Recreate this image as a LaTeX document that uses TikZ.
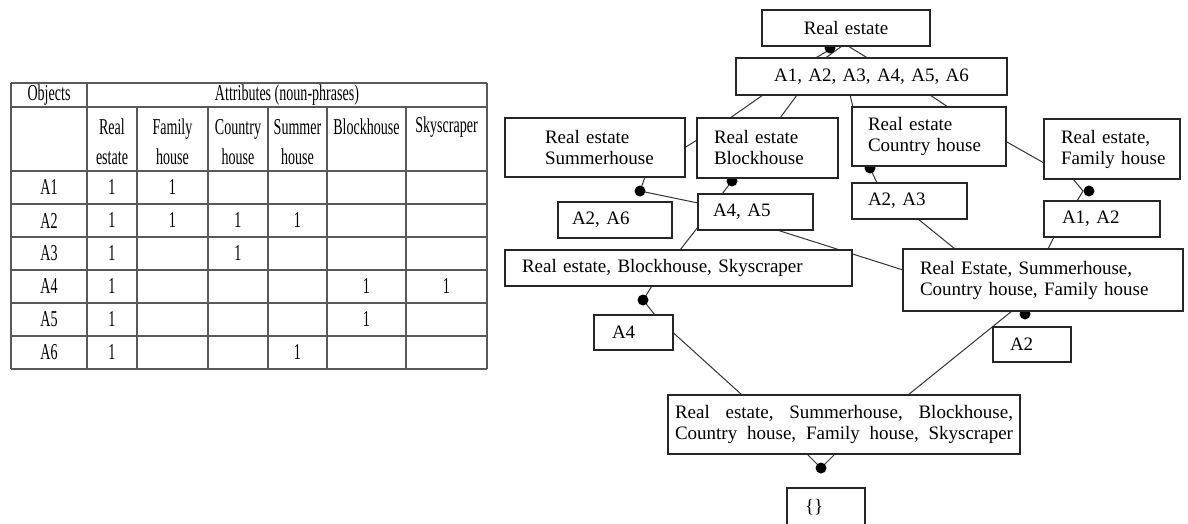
\documentclass[tikz,border=0pt]{standalone}
\usepackage{fontspec}
\setmainfont{Liberation Serif}
\newfontfamily\tabfont[FakeStretch=0.62]{Liberation Serif}
\usetikzlibrary{calc,backgrounds}
\newcommand\boxfont{\fontsize{11.4}{12.6}\selectfont}
\newcommand\cellfont{\tabfont\fontsize{13.6}{18}\selectfont}

\begin{document}
\begin{tikzpicture}[x=0.6pt, y=-0.6pt,
  box/.style={draw=black!85, line width=0.8pt, fill=white, anchor=north west,
    align=left, inner ysep=0pt, outer sep=0pt, font=\boxfont},
  link/.style={black!80, line width=0.6pt},
  joint/.style={fill=black},
  grid/.style={black!65, line width=0.8pt},
  cell/.style={font=\cellfont, inner sep=0pt, align=center}]
\useasboundingbox (0,0) rectangle (1188,523);

% table of objects and attributes
\foreach \yy in {83,107,171,204,...,369} \draw[grid] (11,\yy) -- (487,\yy);
\foreach \xx in {11,87,487} \draw[grid] (\xx,83) -- (\xx,369);
\foreach \xx in {137,208,268,327,406} \draw[grid] (\xx,107) -- (\xx,369);

\node[cell] (hobj) at (49,95) {Objects};
\node[cell] (hattr) at (287,95) {Attributes (noun-phrases)};
\foreach \xx/\lab [count=\k] in {112/{Real\\estate},172.5/{Family\\house},238/{Country\\house},297.5/{Summer\\house}}
  \node[cell] (att\k) at (\xx,142) {\lab};
\node[cell] (att5) at (366.5,127) {Blockhouse};
\node[cell] (att6) at (446.5,127) {Skyscraper};

\foreach \r in {1,...,6}
  \node[cell] (obj\r) at (49,{154.5+33*\r}) {A\r};
\foreach \r/\xx [count=\k] in {1/112,1/172.5,2/112,2/172.5,2/238,2/297.5,3/112,3/238,
    4/112,4/366.5,4/446.5,5/112,5/366.5,6/112,6/297.5}
  \node[cell] (one\k) at (\xx,{154.5+33*\r}) {1};

% lattice: intents and extents
\node[box, align=center, inner xsep=5.4pt, text width=90pt, minimum height=21.6pt] (re) at (762,10) {Real estate};
\node[box, align=center, inner xsep=5.4pt, text width=151.8pt, minimum height=22.2pt] (all) at (736,58) {A1, A2, A3, A4, A5, A6};

\node[box, inner xsep=24pt, text width=60pt, minimum height=35.4pt] (resum) at (505,118) {Real estate\\Summerhouse};
\node[box, inner xsep=10.2pt, text width=64.2pt, minimum height=36pt] (reblk) at (697,118) {Real estate\\Blockhouse};
\node[box, inner xsep=9.6pt, text width=73.2pt, minimum height=35.4pt] (recty) at (852,107) {Real estate\\Country~house};
\node[box, inner xsep=10.2pt, text width=61.2pt, minimum height=36pt] (refam) at (1044,119) {Real estate,\\Family~house};

\node[box, inner xsep=8.4pt, text width=51.6pt, minimum height=21.6pt] (a26) at (558,202) {A2, A6};
\node[box, inner xsep=9pt, text width=51pt, minimum height=21.6pt] (a45) at (698,194) {A4, A5};
\node[box, inner xsep=9.6pt, text width=49.8pt, minimum height=21.6pt] (a23) at (852,183) {A2, A3};
\node[box, inner xsep=10.8pt, text width=48pt, minimum height=21.6pt] (a12) at (1044,201) {A1, A2};

\node[box, inner xsep=10.2pt, text width=187.8pt, minimum height=21.6pt] (bs) at (505,250) {Real estate, Blockhouse, Skyscraper};
\node[box, inner xsep=10.2pt, text width=147.6pt, minimum height=37.2pt] (scf) at (903,249) {Real Estate, Summerhouse,\\Country house, Family house};

\node[box, inner xsep=10.8pt, text width=25.8pt, minimum height=21pt] (a4) at (594,315) {A4};
\node[box, inner xsep=10.2pt, text width=26.4pt, minimum height=21pt] (a2) at (993,327) {A2};

\node[box, inner xsep=4.2pt, text width=202.8pt, minimum height=35.4pt] (big) at (668,395)
  {\hbox to 202.8pt{Real\hfill estate,\hfill Summerhouse,\hfill Blockhouse,}\\
   \hbox to 202.8pt{Country\hfill house,\hfill Family\hfill house,\hfill Skyscraper}};
\node[box, inner xsep=10.8pt, text width=25.2pt, minimum height=22.8pt] (none) at (787,488) {\{\}};

% connectors and joints
\begin{scope}[on background layer]
  \coordinate (j1) at ($(re.south)+(-16,2)$);
  \coordinate (j2) at ($(resum.south west)+(135,14)$);
  \coordinate (j3) at ($(reblk.south west)+(35,3)$);
  \coordinate (j4) at ($(recty.south west)+(18,2)$);
  \coordinate (j5) at ($(refam.south west)+(45,12)$);
  \coordinate (j6) at ($(bs.south west)+(138,14)$);
  \coordinate (j7) at ($(scf.south west)+(122,3)$);
  \coordinate (j8) at ($(big.south)+(-23,14)$);

  \draw[link] ($(re.south)+(-10,0)$) -- ($(all.north)+(-56,0)$);
  \draw[link] ($(re.south)+(-4,0)$) -- ($(all.north)+(-46,0)$);
  \draw[link] ($(re.south)+(2,0)$) -- ($(all.north)+(-4,0)$);

  \draw[link] ($(all.south west)+(27,0)$) -- ($(reblk.north west)+(33,0)$);
  \draw[link] ($(all.south west)+(61,0)$) -- ($(reblk.north west)+(83,0)$);
  \draw[link] ($(all.south west)+(114,0)$) -- ($(recty.north west)+(1,0)$);
  \draw[link] ($(all.south west)+(194,0)$) -- ($(recty.north west)+(96,0)$);
  \draw[link] (resum.east) -- ($(reblk.west)+(0,-8)$);
  \draw[link] ($(recty.east)+(0,5)$) -- ($(refam.west)+(0,14)$);

  \draw[link] ($(resum.south west)+(140,0)$) -- (j2) -- ($(a45.west)+(0,-9)$);
  \draw[link] (j3) -- ($(a45.north west)+(24,0)$);
  \draw[link] (j4) -- ($(a23.north west)+(25,0)$);
  \draw[link] ($(refam.south west)+(29,0)$) -- ($(j5)+(-6,0)$) -- ($(a12.north west)+(33,0)$);
  \draw[link] ($(bs.south west)+(147,0)$) -- (j6) -- ($(a4.north west)+(61,0)$);
  \draw[link] ($(big.south)+(-37,0)$) -- (j8) -- ($(big.south)+(-9,0)$);

  \draw[link] ($(a45.south west)+(0,-3)$) -- ($(bs.north west)+(175,0)$);
  \draw[link] ($(a45.south west)+(79,0)$) -- ($(scf.west)+(0,-10)$);
  \draw[link] ($(a23.south west)+(66,0)$) -- ($(scf.north west)+(52,0)$);
  \draw[link] ($(a12.south west)+(10,0)$) -- ($(scf.north west)+(145,0)$);
  \draw[link] (a4.east) -- ($(big.north west)+(74,0)$);
  \draw[link] ($(scf.south west)+(109,0)$) -- ($(big.north west)+(240,0)$);

  \foreach \j in {1,...,8} \fill[joint] (j\j) circle (3.3pt);
\end{scope}
\end{tikzpicture}
\end{document}
